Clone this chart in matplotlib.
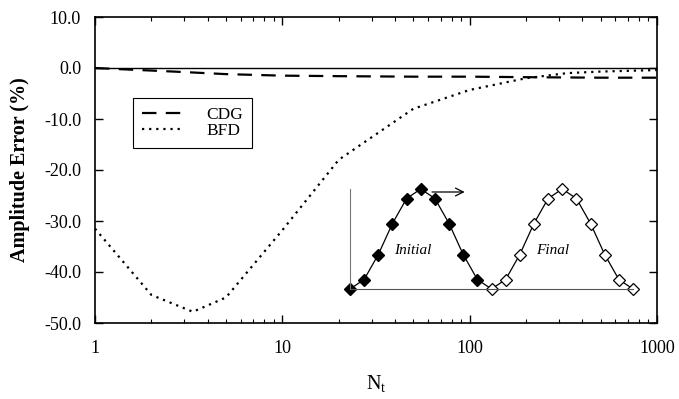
import matplotlib
matplotlib.use("Agg")
import matplotlib.pyplot as plt
from matplotlib.ticker import FixedLocator, FuncFormatter, LogLocator, NullFormatter

plt.rcParams["font.family"] = ["Liberation Serif", "DejaVu Serif"]
plt.rcParams["mathtext.fontset"] = "custom"
plt.rcParams["mathtext.rm"] = "Liberation Serif"
plt.rcParams["mathtext.it"] = "Liberation Serif:italic"
plt.rcParams["axes.unicode_minus"] = False

# Amplitude error vs. number of time steps per period
cdg_n = [1, 1.5, 2, 3, 5, 10, 20, 50, 100, 200, 500, 1000]
cdg_err = [0.0, -0.3, -0.5, -0.8, -1.2, -1.5, -1.6, -1.7, -1.7, -1.8, -1.9, -1.9]

bfd_n = [1, 2, 3.33, 5, 10, 20, 50, 100, 200, 333, 500, 1000]
bfd_err = [-31.5, -44.5, -47.8, -45.0, -31.8, -18.0, -8.0, -4.3, -2.0, -1.0, -0.7, -0.4]

y_ticks = [10, 0, -10, -20, -30, -40, -50]
x_ticks = [1, 10, 100, 1000]

# Schematic pulse: initial (filled) and final (open) positions
pulse_idx = list(range(21))
pulse_val = [0.0, 0.095, 0.345, 0.655, 0.905, 1.0, 0.905, 0.655, 0.345, 0.095,
             0.0, 0.095, 0.345, 0.655, 0.905, 1.0, 0.905, 0.655, 0.345, 0.095, 0.0]
n_initial = 10

fig = plt.figure(figsize=(6.79, 3.99), dpi=100)
ax = fig.add_axes([95 / 679, 1 - 323 / 399, 562 / 679, 306 / 399])

ax.plot([1, 1000], [0, 0], color="black", lw=1.0)
ax.plot(cdg_n, cdg_err, color="black", lw=1.6, dashes=(6.5, 4.2), label="CDG")
ax.plot(bfd_n, bfd_err, color="black", lw=1.6, linestyle=(0, (1, 2.2)), label="BFD")

ax.set_xscale("log")
ax.set_xlim(1, 1000)
ax.set_ylim(-50, 10)
ax.xaxis.set_major_locator(FixedLocator(x_ticks))
ax.xaxis.set_major_formatter(FuncFormatter(lambda v, p: f"{v:g}"))
ax.xaxis.set_minor_locator(LogLocator(base=10, subs=range(2, 10)))
ax.xaxis.set_minor_formatter(NullFormatter())
ax.yaxis.set_major_locator(FixedLocator(y_ticks))
ax.yaxis.set_major_formatter(FuncFormatter(lambda v, p: f"{v:.1f}"))

ax.tick_params(which="both", direction="in", top=True, right=True, labelsize=13)
ax.tick_params(which="major", length=6, width=1.0)
ax.tick_params(which="minor", length=3, width=0.8)
ax.tick_params(axis="x", which="major", pad=12)
ax.tick_params(axis="y", which="major", pad=10)
for s in ax.spines.values():
    s.set_linewidth(1.2)

ax.set_ylabel("Amplitude Error (%)", fontsize=14.5, fontweight="bold", labelpad=10)
ax.set_xlabel(r"$\mathregular{N_t}$", fontsize=14.5, labelpad=12)

leg = ax.legend(loc="upper left", bbox_to_anchor=(0.068, 0.735), borderaxespad=0,
                fontsize=12.5, handlelength=2.4, handletextpad=1.3,
                fancybox=False, framealpha=1, edgecolor="black",
                borderpad=0.5, labelspacing=0.02)
leg.get_frame().set_linewidth(0.8)

# Inset sketch of the advected pulse
ins = fig.add_axes([350 / 679, 1 - 289 / 399, 283 / 679, 100 / 399])
ins.set_xlim(0, 20)
ins.set_ylim(0, 1)
ins.patch.set_alpha(0)
ins.plot(pulse_idx, pulse_val, color="black", lw=0.9, clip_on=False)
ins.plot(pulse_idx[:n_initial], pulse_val[:n_initial], "D", color="black",
         ms=5.8, clip_on=False)
ins.plot(pulse_idx[n_initial:], pulse_val[n_initial:], "D", mfc="white",
         mec="black", mew=0.9, ms=5.8, clip_on=False)
ins.annotate("", xy=(8.3, 0.97), xytext=(5.6, 0.97),
             arrowprops=dict(arrowstyle="->", lw=0.9, color="black",
                             mutation_scale=14))
ins.text(4.45, 0.39, "Initial", style="italic", fontsize=11, ha="center", va="center")
ins.text(14.35, 0.39, "Final", style="italic", fontsize=11, ha="center", va="center")
ins.set_xticks([])
ins.set_yticks([])
for k in ("top", "right"):
    ins.spines[k].set_visible(False)
ins.spines["left"].set_color("#777777")
ins.spines["left"].set_linewidth(0.8)
ins.spines["bottom"].set_color("#555555")
ins.spines["bottom"].set_linewidth(0.8)

fig.savefig("out.png", dpi=100)
